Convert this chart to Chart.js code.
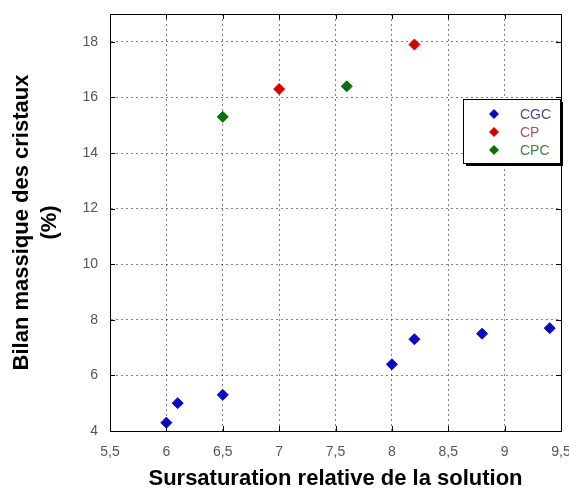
<!DOCTYPE html>
<html>
<head>
<meta charset="utf-8">
<script src="https://cdn.jsdelivr.net/npm/chart.js@4/dist/chart.umd.min.js"></script>
<style>
  html, body { margin: 0; padding: 0; background: #fff; }
</style>
</head>
<body>
<canvas id="bilanChart" width="569" height="490"></canvas>
<script>
  'use strict';

  // values
  var seriesNames = ['CGC', 'CP', 'CPC'];
  var cgcX = [6, 6.1, 6.5, 8, 8.2, 8.8, 9.4];
  var cgcY = [4.3, 5.0, 5.3, 6.4, 7.3, 7.5, 7.7];
  var cpX = [7, 8.2];
  var cpY = [16.3, 17.9];
  var cpcX = [6.5, 7.6];
  var cpcY = [15.3, 16.4];
  var xTicks = [5.5, 6, 6.5, 7, 7.5, 8, 8.5, 9, 9.5];
  var yTicks = [4, 6, 8, 10, 12, 14, 16, 18];

  var pointColors = ['#0a0ac0', '#d80000', '#0a700a'];
  var legendTextColors = ['#4b4b8c', '#b0505c', '#3f7f3f'];

  function pairs(xs, ys) {
    return xs.map(function (x, i) { return { x: x, y: ys[i] }; });
  }

  function makeSet(i, xs, ys) {
    return {
      label: seriesNames[i],
      data: pairs(xs, ys),
      pointStyle: 'rectRot',
      pointRadius: 5.5,
      backgroundColor: pointColors[i],
      borderColor: pointColors[i],
      borderWidth: 1,
      showLine: false
    };
  }

  function comma(v) {
    return String(v).replace('.', ',');
  }

  // black frame + inward tick marks on all four sides
  var framePlugin = {
    id: 'frame',
    afterDatasetsDraw: function (chart) {
      var c = chart.ctx, a = chart.chartArea;
      var sx = chart.scales.x, sy = chart.scales.y;
      c.save();
      c.strokeStyle = '#000';
      c.lineWidth = 1;
      c.strokeRect(Math.round(a.left) + 0.5, Math.round(a.top) + 0.5,
        Math.round(a.right - a.left), Math.round(a.bottom - a.top));
      c.beginPath();
      xTicks.forEach(function (v) {
        var px = Math.round(sx.getPixelForValue(v)) + 0.5;
        c.moveTo(px, a.bottom); c.lineTo(px, a.bottom - 5);
        c.moveTo(px, a.top); c.lineTo(px, a.top + 5);
      });
      yTicks.forEach(function (v) {
        var py = Math.round(sy.getPixelForValue(v)) + 0.5;
        c.moveTo(a.left, py); c.lineTo(a.left + 5, py);
        c.moveTo(a.right, py); c.lineTo(a.right - 5, py);
      });
      c.stroke();
      c.restore();
    }
  };

  // boxed legend inside the plot, upper right, with a drop shadow
  var boxLegend = {
    id: 'boxLegend',
    afterDraw: function (chart) {
      var c = chart.ctx;
      var bx = 463, by = 99, bw = 97, bh = 64;
      c.save();
      c.fillStyle = '#000';
      c.fillRect(bx + 3, by + 3, bw, bh);
      c.fillStyle = '#fff';
      c.fillRect(bx, by, bw, bh);
      c.strokeStyle = '#000';
      c.lineWidth = 1;
      c.strokeRect(bx + 0.5, by + 0.5, bw, bh);
      c.font = '14px "Liberation Sans", Arial, sans-serif';
      c.textBaseline = 'middle';
      chart.data.datasets.forEach(function (ds, i) {
        var cy = by + 15 + i * 18;
        var cx = bx + 31;
        c.fillStyle = ds.backgroundColor;
        c.beginPath();
        c.moveTo(cx - 5, cy); c.lineTo(cx, cy - 5);
        c.lineTo(cx + 5, cy); c.lineTo(cx, cy + 5);
        c.closePath();
        c.fill();
        c.fillStyle = legendTextColors[i];
        c.fillText(ds.label, bx + 57, cy + 1);
      });
      c.restore();
    }
  };

  var gridStyle = {
    color: 'rgba(0, 0, 0, 0.5)',
    lineWidth: 1,
    drawTicks: false
  };

  new Chart(document.getElementById('bilanChart'), {
    type: 'scatter',
    data: {
      datasets: [
        makeSet(0, cgcX, cgcY),
        makeSet(1, cpX, cpY),
        makeSet(2, cpcX, cpcY)
      ]
    },
    options: {
      responsive: false,
      animation: false,
      layout: { padding: { top: 14, right: 8, left: 0, bottom: 0 } },
      plugins: {
        legend: { display: false },
        tooltip: { enabled: false }
      },
      scales: {
        x: {
          type: 'linear',
          min: 5.5,
          max: 9.5,
          afterBuildTicks: function (s) {
            s.ticks = xTicks.map(function (v) { return { value: v }; });
          },
          afterFit: function (s) {
            s.height = 59;
            s.paddingLeft = 0;
            s.paddingRight = 0;
          },
          grid: gridStyle,
          border: { display: true, color: '#000', dash: [2, 3] },
          ticks: {
            color: '#555',
            padding: 13,
            maxRotation: 0,
            font: { family: '"Liberation Sans", Arial, sans-serif', size: 14 },
            callback: function (v) { return comma(v); }
          },
          title: {
            display: true,
            text: 'Sursaturation relative de la solution',
            color: '#000',
            padding: { top: 0, bottom: 0 },
            font: { family: '"Liberation Sans", Arial, sans-serif', size: 22, weight: 'bold', lineHeight: 1 }
          }
        },
        y: {
          type: 'linear',
          min: 4,
          max: 19,
          afterBuildTicks: function (s) {
            s.ticks = yTicks.map(function (v) { return { value: v }; });
          },
          afterFit: function (s) {
            s.width = 110;
            s.paddingTop = 0;
            s.paddingBottom = 0;
          },
          grid: gridStyle,
          border: { display: true, color: '#000', dash: [2, 3] },
          ticks: {
            color: '#555',
            padding: 12,
            font: { family: '"Liberation Sans", Arial, sans-serif', size: 14 },
            callback: function (v) { return comma(v); }
          },
          title: {
            display: true,
            text: ['Bilan massique des cristaux', '(%)'],
            color: '#000',
            padding: { top: 8, bottom: 0 },
            font: { family: '"Liberation Sans", Arial, sans-serif', size: 22, weight: 'bold', lineHeight: 1.27 }
          }
        }
      }
    },
    plugins: [framePlugin, boxLegend]
  });
</script>
</body>
</html>
